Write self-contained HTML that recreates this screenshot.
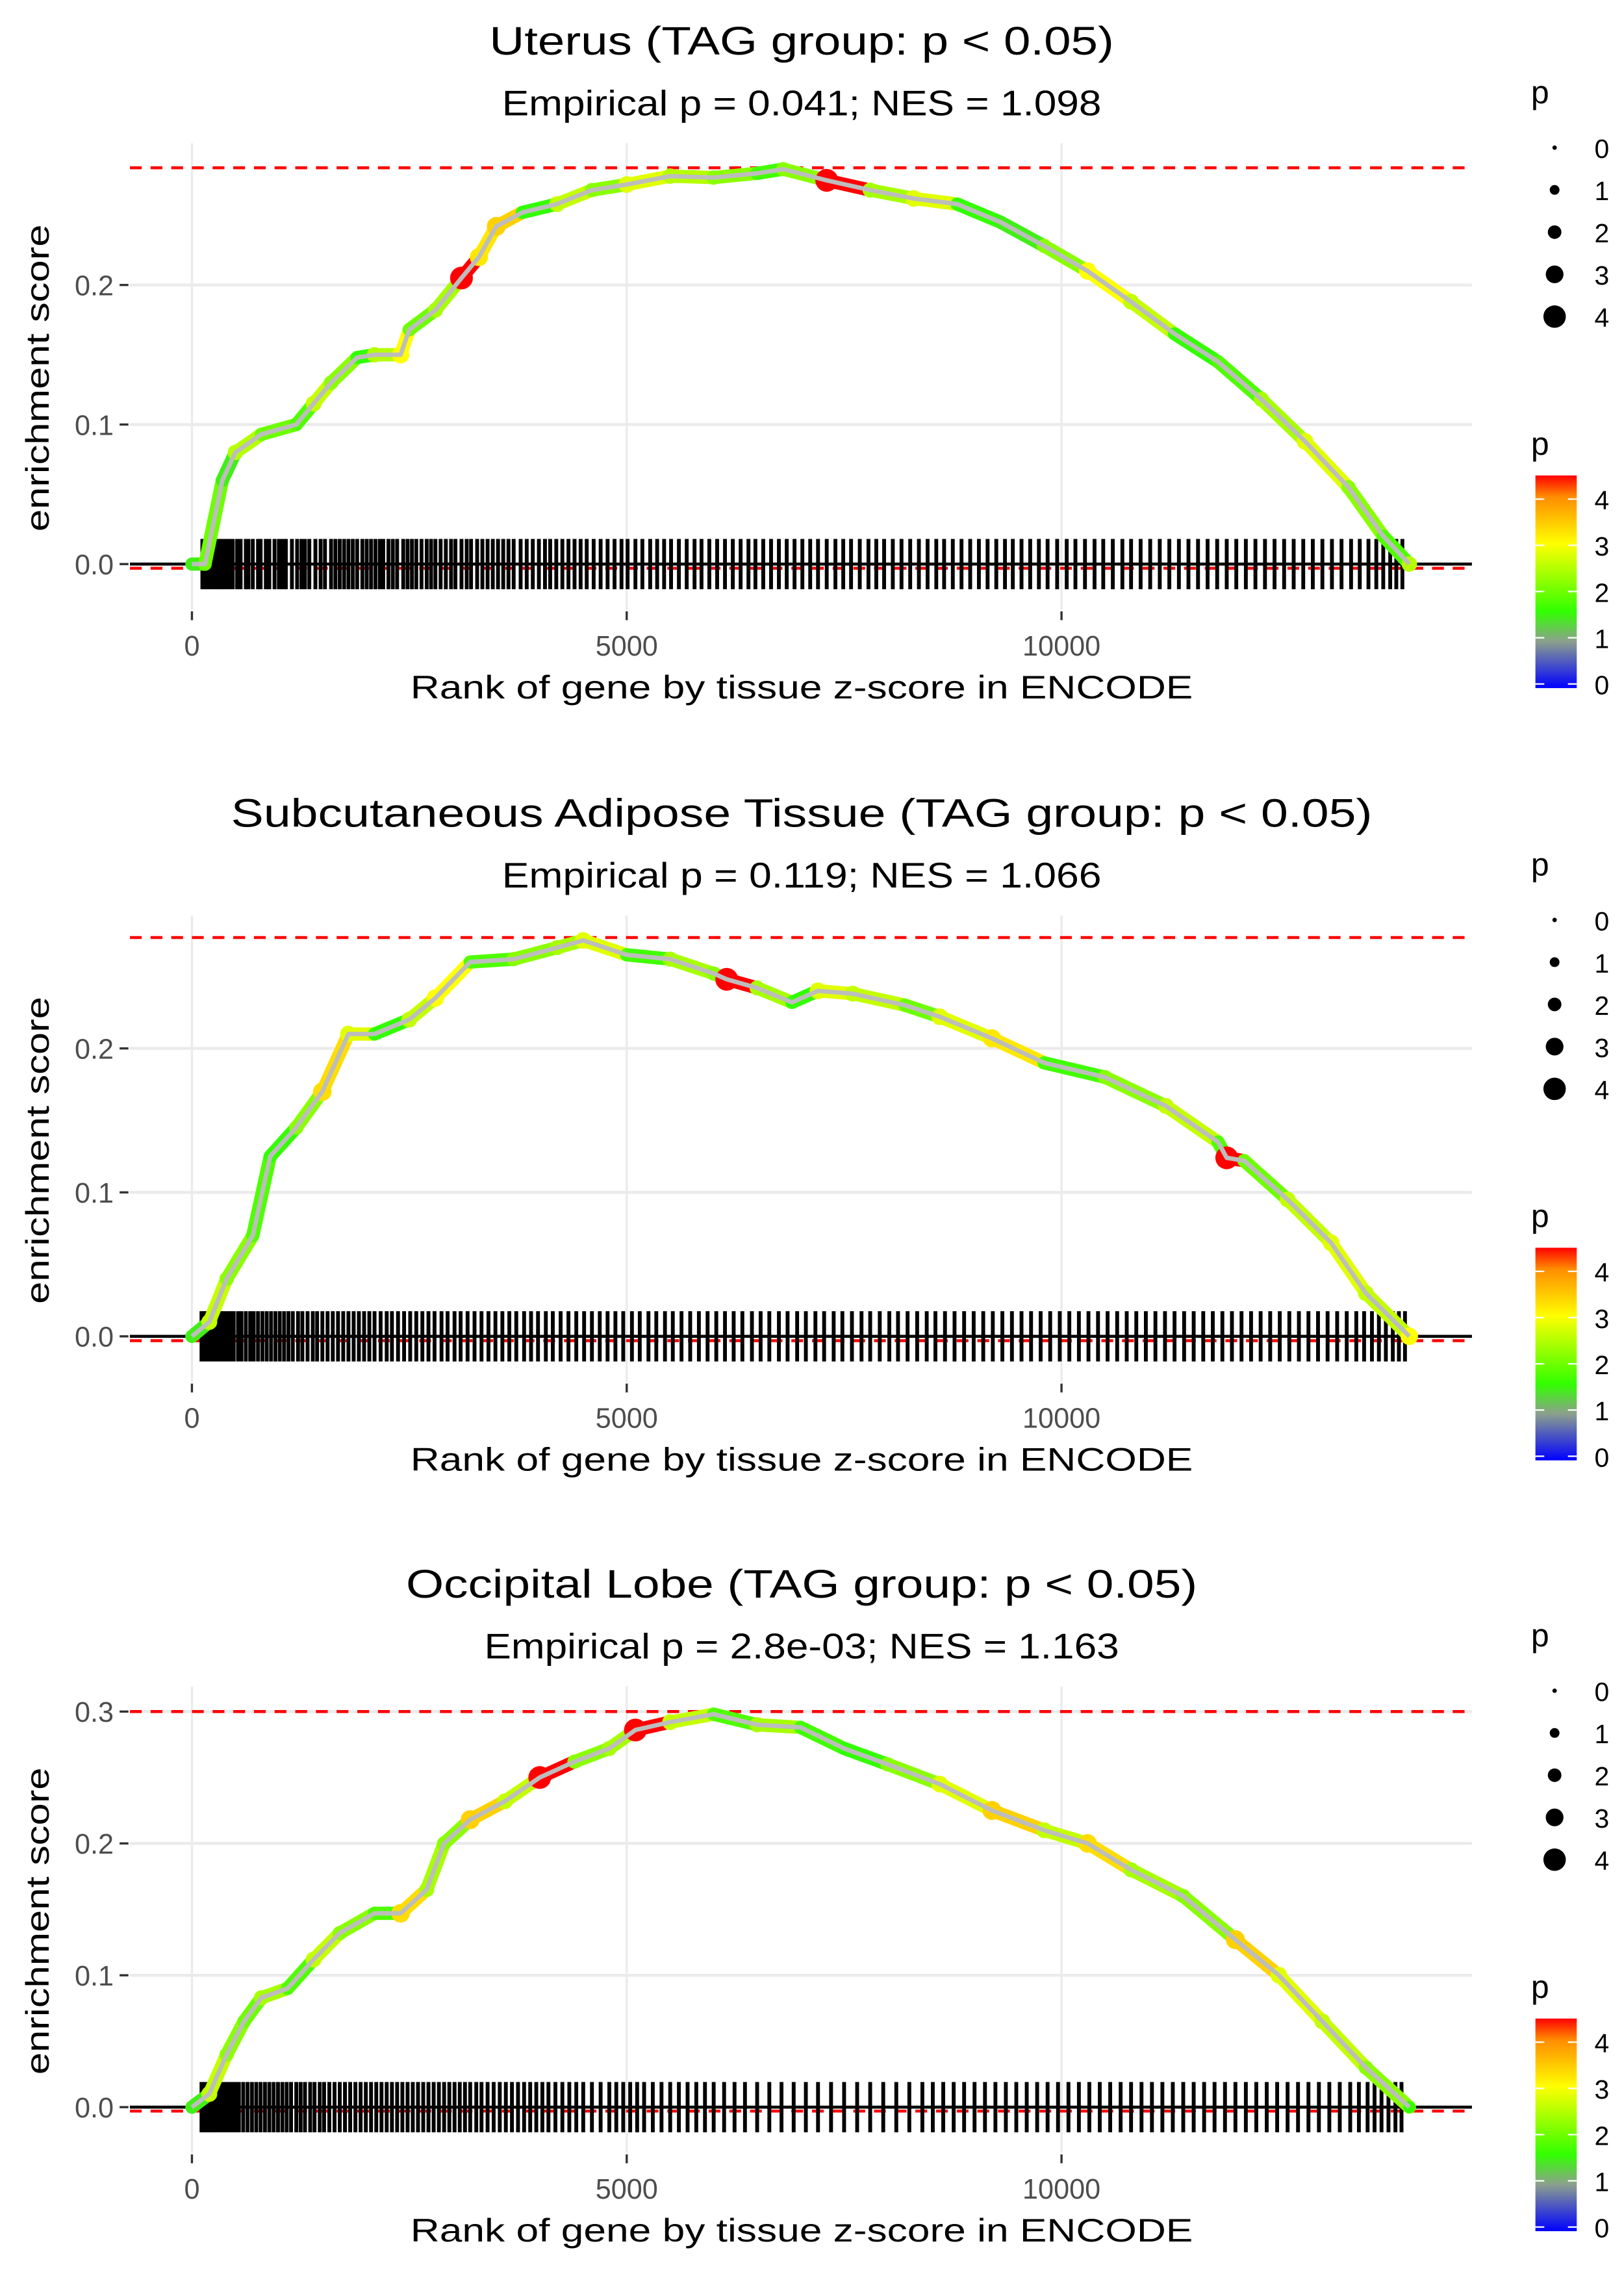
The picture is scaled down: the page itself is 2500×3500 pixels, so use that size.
<!DOCTYPE html>
<html><head><meta charset="utf-8"><style>
html,body{margin:0;padding:0;background:#fff}
svg{display:block}
text{font-family:"Liberation Sans",sans-serif}
</style></head><body>
<svg id="chart" xmlns="http://www.w3.org/2000/svg" width="2500" height="3500" viewBox="0 0 1100 1540"></svg>
<script>
const titles = ["Uterus (TAG group: p < 0.05)","Subcutaneous Adipose Tissue (TAG group: p < 0.05)","Occipital Lobe (TAG group: p < 0.05)"];
const subtitles = ["Empirical p = 0.041; NES = 1.098","Empirical p = 0.119; NES = 1.066","Empirical p = 2.8e-03; NES = 1.163"];
const xTicks = [0,5000,10000];
const xTickLabels = ["0","5000","10000"];
const yTicks1 = [0,0.1,0.2];
const yTicks2 = [0,0.1,0.2];
const yTicks3 = [0,0.1,0.2,0.3];
const maxES = [0.284,0.277,0.300];
const minES = [-0.003,-0.003,-0.003];

const ranks1 = [0,150,250,350,500,800,1200,1400,1600,1900,2100,2400,2500,2800,3100,3300,3500,3800,4200,4600,5000,5500,6000,6500,6800,7300,7800,8300,8800,9300,9800,10300,10800,11300,11800,12300,12800,13300,13700,14000];
const es1 = [0,0.0,0.03,0.06,0.08,0.093,0.10,0.115,0.13,0.148,0.15,0.15,0.168,0.182,0.205,0.22,0.242,0.252,0.258,0.268,0.272,0.278,0.277,0.28,0.283,0.275,0.268,0.262,0.258,0.245,0.228,0.21,0.188,0.165,0.145,0.118,0.088,0.055,0.02,0.0];
const p1 = [1.5,2,2,1.5,2.5,2,1.8,2.6,2.2,1.6,2.5,3,2,2.4,4.4,3.2,3.4,1.6,2.6,2.2,2.8,2.5,2.2,1.7,2.2,4.4,2.4,2.8,1.6,1.5,2.2,3,2.6,1.6,1.8,2.4,2.8,2.2,1.8,2.5];
const ranks2 = [0,200,400,700,900,1200,1500,1800,2100,2500,2800,3200,3700,4200,4500,5000,5500,6000,6150,6500,6900,7200,7600,8200,8600,9200,9800,10500,11200,11800,11900,12100,12600,13100,13500,14000];
const es2 = [0,0.01,0.04,0.07,0.125,0.145,0.17,0.21,0.21,0.22,0.235,0.26,0.262,0.27,0.275,0.265,0.262,0.252,0.248,0.242,0.232,0.24,0.238,0.23,0.222,0.207,0.19,0.18,0.16,0.135,0.124,0.122,0.095,0.065,0.03,0.0];
const p2 = [1.5,2.6,2.2,1.8,1.6,2.2,3.3,2.8,1.6,2.6,3,1.8,2.2,2.4,2.8,1.7,2.4,2.2,4.4,2.4,1.6,2.8,2.6,2,2.8,3.2,1.7,2.2,2.6,1.8,4.4,2,2.6,2.8,2.6,3];
const ranks3 = [0,200,400,600,800,1100,1400,1700,2100,2400,2700,2900,3200,3600,4000,4400,4800,5100,5500,6000,6500,7000,7500,8000,8600,9200,9800,10300,10800,11400,12000,12500,13000,13500,14000];
const es3 = [0,0.01,0.04,0.065,0.083,0.09,0.112,0.132,0.147,0.147,0.165,0.2,0.218,0.232,0.25,0.262,0.272,0.286,0.292,0.298,0.29,0.288,0.272,0.26,0.245,0.225,0.21,0.2,0.18,0.16,0.127,0.1,0.065,0.03,0.0];
const p3 = [1.5,2.6,2.2,2,2.4,1.8,2.6,2.2,1.8,3.3,2.4,2.2,3.4,2.6,4.4,2.2,2.4,4.4,2.6,1.8,2.4,1.7,1.6,2.2,2.8,3.4,2.6,3.3,2.4,2.2,3.4,2.8,2.6,2.2,1.6];

const hits1 = [120,150,180,200,230,260,290,310,340,370,400,430,470,520,560,620,650,700,760,790,850,890,950,1000,1040,1080,1150,1210,1260,1300,1350,1420,1480,1530,1600,1650,1700,1750,1800,1850,1900,1960,2010,2060,2110,2160,2200,2260,2310,2360,2430,2480,2530,2580,2640,2700,2750,2800,2860,2920,2980,3030,3100,3160,3210,3280,3340,3400,3460,3520,3580,3640,3700,3780,3850,3920,3990,4060,4120,4190,4260,4330,4400,4470,4540,4620,4700,4780,4860,4940,5010,5100,5180,5270,5350,5430,5510,5600,5690,5780,5860,5950,6040,6130,6220,6310,6400,6480,6570,6660,6750,6840,6930,7020,7110,7200,7300,7400,7490,7580,7680,7780,7870,7960,8060,8160,8260,8360,8460,8560,8650,8750,8850,8950,9050,9150,9250,9350,9440,9540,9640,9740,9840,9950,10060,10160,10270,10380,10480,10590,10700,10800,10910,11020,11130,11240,11350,11460,11570,11680,11790,11900,12010,12120,12230,12340,12450,12560,12670,12780,12890,13000,13110,13220,13330,13430,13530,13620,13700,13780,13850,13920];
const hits2 = [110,140,170,200,240,270,300,330,360,400,440,480,530,570,620,670,710,760,810,860,910,960,1010,1060,1110,1160,1220,1270,1330,1390,1440,1500,1560,1620,1680,1740,1800,1860,1920,1980,2040,2100,2170,2240,2300,2370,2440,2510,2580,2650,2720,2790,2870,2940,3020,3090,3170,3250,3330,3410,3490,3570,3650,3730,3820,3900,3980,4070,4150,4240,4330,4420,4510,4600,4690,4780,4870,4960,5060,5150,5250,5340,5440,5530,5630,5730,5830,5930,6030,6130,6230,6330,6440,6540,6640,6750,6850,6960,7060,7170,7270,7380,7480,7590,7700,7800,7910,8020,8120,8230,8340,8450,8550,8660,8770,8880,8990,9100,9210,9320,9430,9540,9650,9760,9870,9980,10090,10200,10310,10420,10530,10640,10750,10860,10970,11080,11190,11300,11410,11520,11630,11740,11850,11960,12070,12180,12290,12400,12510,12620,12730,12840,12950,13060,13170,13280,13390,13480,13570,13650,13730,13810,13880,13950];
const hits3 = [110,140,170,200,230,260,300,340,380,420,460,500,540,590,640,690,740,790,840,890,940,990,1040,1090,1140,1200,1250,1300,1360,1410,1470,1520,1580,1640,1700,1760,1820,1880,1940,2000,2060,2120,2180,2240,2300,2360,2420,2480,2540,2600,2660,2720,2780,2840,2900,2960,3020,3080,3140,3200,3270,3330,3400,3470,3540,3610,3680,3750,3820,3890,3960,4030,4100,4180,4260,4340,4420,4500,4600,4700,4800,4880,4960,5040,5120,5200,5300,5400,5500,5600,5700,5800,5900,6000,6120,6240,6360,6500,6640,6780,6920,7060,7200,7350,7500,7650,7800,7950,8100,8250,8400,8520,8640,8760,8880,9000,9120,9240,9360,9480,9600,9720,9840,9960,10080,10200,10320,10440,10560,10680,10800,10920,11040,11160,11280,11400,11520,11640,11760,11880,12000,12120,12240,12360,12480,12600,12720,12840,12960,13080,13200,13320,13420,13520,13600,13680,13760,13840,13910];

const panels = [
 {ranks:ranks1,es:es1,p:p1,hits:hits1,yTicks:yTicks1,y0:382,k:945},
 {ranks:ranks2,es:es2,p:p2,hits:hits2,yTicks:yTicks2,y0:905,k:975},
 {ranks:ranks3,es:es3,p:p3,hits:hits3,yTicks:yTicks3,y0:1427,k:893}
];
const offs=[0,523,1045];
const titleWidths=[423,773,536];
const subWidths=[406,406,430];
const NS="http://www.w3.org/2000/svg";
const svg=document.getElementById('chart');
function mk(tag,attrs,parent,txt){const e=document.createElementNS(NS,tag);for(const k in attrs)e.setAttribute(k,attrs[k]);if(txt!==undefined)e.textContent=txt;(parent||svg).appendChild(e);return e;}
function lerp(a,b,t){return a.map((v,i)=>Math.round(v+(b[i]-v)*t));}
const stops=[[0,[0,0,255]],[1,[140,160,140]],[1.6,[50,255,0]],[3,[255,255,0]],[4,[255,140,0]],[4.4,[255,0,0]]];
function pcol(p){for(let i=0;i<stops.length-1;i++){if(p<=stops[i+1][0]){const t=(p-stops[i][0])/(stops[i+1][0]-stops[i][0]);return 'rgb('+lerp(stops[i][1],stops[i+1][1],Math.max(0,t)).join(',')+')';}}return 'rgb(255,0,0)';}

panels.forEach((P,pi)=>{
 const off=offs[pi];
 const sx=r=>130+r*(294.5/5000);
 const sy=v=>P.y0-v*P.k;
 const g=mk('g',{});
 
 
 const t=mk('text',{x:543,y:37+off,'text-anchor':'middle','font-size':27,textLength:titleWidths[pi],lengthAdjust:'spacingAndGlyphs'},g,titles[pi]);
 
 
 const st=mk('text',{x:543,y:78+off,'text-anchor':'middle','font-size':24,textLength:subWidths[pi],lengthAdjust:'spacingAndGlyphs'},g,subtitles[pi]);
 
 
 P.yTicks.forEach(v=>{const l=mk('line',{x1:88,x2:997,y1:sy(v),y2:sy(v),stroke:'#ebebeb','stroke-width':2},g);
  
  const tl=mk('text',{x:77,y:sy(v)+7,'text-anchor':'end','font-size':19,fill:'#4d4d4d'},g,v.toFixed(1));
  
  mk('line',{x1:81,x2:87,y1:sy(v),y2:sy(v),stroke:'#333','stroke-width':1.5},g);});
 xTicks.forEach((v,i)=>{const l=mk('line',{x1:sx(v),x2:sx(v),y1:97+off,y2:413+off,stroke:'#ebebeb','stroke-width':1.5},g);
  
  mk('line',{x1:sx(v),x2:sx(v),y1:414+off,y2:420+off,stroke:'#333','stroke-width':1.5},g);
  const tl=mk('text',{x:sx(v),y:444+off,'text-anchor':'middle','font-size':19,fill:'#4d4d4d'},g,xTickLabels[i]);
  });
 [maxES[pi],minES[pi]].forEach(v=>{const l=mk('line',{x1:88,x2:997,y1:sy(v),y2:sy(v),stroke:'#ff0000','stroke-width':2,'stroke-dasharray':'8,6'},g);
  });
 const bc=mk('g',{},g);
 
 P.hits.forEach(h=>{const l=mk('line',{x1:sx(h),x2:sx(h),y1:sy(0.018*945/P.k),y2:sy(-0.018*945/P.k),stroke:'#000','stroke-width':2.6},bc);
  });
 const zl=mk('line',{x1:88,x2:997,y1:sy(0),y2:sy(0),stroke:'#000','stroke-width':2},g);
 
 for(let i=0;i<P.ranks.length-1;i++){
  const l=mk('line',{x1:sx(P.ranks[i]),y1:sy(P.es[i]),x2:sx(P.ranks[i+1]),y2:sy(P.es[i+1]),stroke:pcol(P.p[i]),'stroke-width':9,'stroke-linecap':'round'},g);
  
 }
 P.ranks.forEach((r,i)=>{const c=mk('circle',{cx:sx(r),cy:sy(P.es[i]),r:2+P.p[i]*1.3,fill:pcol(P.p[i])},g);
  });
 const pts=P.ranks.map((r,i)=>sx(r)+','+sy(P.es[i])).join(' ');
 const pl=mk('polyline',{points:pts,fill:'none',stroke:'#bdbdbd','stroke-width':3,'stroke-linejoin':'round'},g);
 
 const xt=mk('text',{x:543,y:473+off,'text-anchor':'middle','font-size':22,textLength:530,lengthAdjust:'spacingAndGlyphs'},g,'Rank of gene by tissue z-score in ENCODE');
 
 const yt=mk('text',{x:0,y:0,'text-anchor':'middle','font-size':22,textLength:208,lengthAdjust:'spacingAndGlyphs',transform:'translate(33,'+(256+off)+') rotate(-90)'},g,'enrichment score');
 
 const lg=mk('g',{},g);
 
 mk('text',{x:1037,y:70+off,'font-size':22},lg,'p');
 [0,1,2,3,4].forEach((v,i)=>{mk('circle',{cx:1053,cy:100+i*28.6+off,r:[1.5,3.3,4.6,6,7.6][i],fill:'#000'},lg);
  mk('text',{x:1080,y:107+i*28.6+off,'font-size':18},lg,String(v));});
 const cb=mk('g',{},g);
 
 mk('text',{x:1037,y:308+off,'font-size':22},cb,'p');
 const gid='grad'+pi;
 const defs=mk('defs',{},cb);
 const lgr=mk('linearGradient',{id:gid,x1:0,y1:1,x2:0,y2:0},defs);
 [[0,0],[1,0.22],[1.6,0.36],[3,0.68],[4,0.9],[4.4,1]].forEach(s=>mk('stop',{offset:s[1],'stop-color':pcol(s[0])},lgr));
 mk('rect',{x:1040,y:322+off,width:28,height:144,fill:'url(#'+gid+')'},cb);
 [4,3,2,1,0].forEach((v,i)=>{const y=338+i*31.3+off;
  mk('line',{x1:1040,x2:1046,y1:y,y2:y,stroke:'#fff','stroke-width':1},cb);
  mk('line',{x1:1062,x2:1068,y1:y,y2:y,stroke:'#fff','stroke-width':1},cb);
  mk('text',{x:1080,y:y+7,'font-size':18},cb,String(v));});
});
</script>
</body></html>
